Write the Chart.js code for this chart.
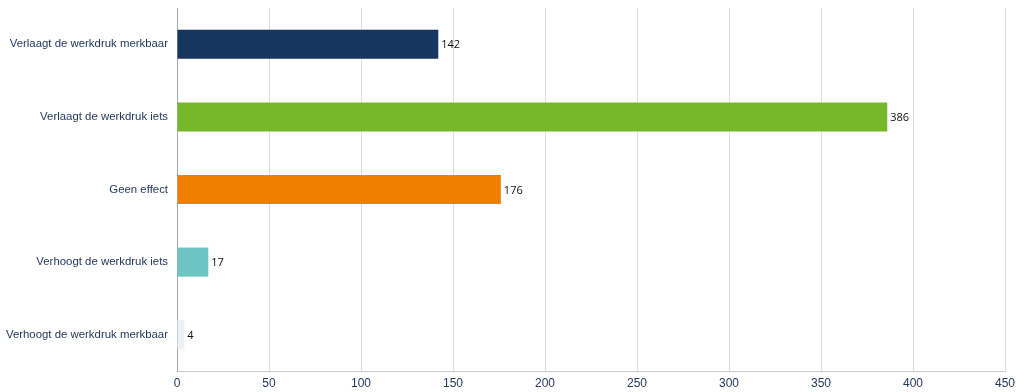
<!DOCTYPE html>
<html>
<head>
<meta charset="utf-8">
<script src="https://cdn.jsdelivr.net/npm/chart.js@4/dist/chart.umd.min.js"></script>
<style>
html,body{margin:0;padding:0;background:#fff;}
#wrap{width:1024px;height:392px;position:relative;}
</style>
</head>
<body>
<div id="wrap"><canvas id="c" width="1024" height="392"></canvas></div>
<script>
const categories = ["Verlaagt de werkdruk merkbaar","Verlaagt de werkdruk iets","Geen effect","Verhoogt de werkdruk iets","Verhoogt de werkdruk merkbaar"];
const values = [142, 386, 176, 17, 4];
const barColors = ["#17365f","#77b82a","#f07f00","#6cc4c3","#eef0f5"];
const xTicks = [0,50,100,150,200,250,300,350,400,450];

const valueLabels = {
  id:'valueLabels',
  afterDatasetsDraw(chart){
    const ctx = chart.ctx;
    const meta = chart.getDatasetMeta(0);
    ctx.save();
    ctx.font = '11px "Open Sans"';
    ctx.fillStyle = '#111';
    ctx.textAlign = 'left';
    ctx.textBaseline = 'middle';
    meta.data.forEach((el,i)=>{
      ctx.fillText(String(values[i]), el.x + 3, el.y + 1);
    });
    ctx.restore();
  }
};

new Chart(document.getElementById('c'), {
  type:'bar',
  data:{
    labels: categories,
    datasets:[{data: values, backgroundColor: barColors, borderWidth:0, barPercentage:0.4, categoryPercentage:1}]
  },
  options:{
    indexAxis:'y',
    responsive:false,
    animation:false,
    layout:{padding:{left:0,right:19,top:8,bottom:0}},
    plugins:{legend:{display:false},tooltip:{enabled:false}},
    scales:{
      x:{
        min:0,max:450,
        afterBuildTicks(s){ s.ticks = xTicks.map(v=>({value:v})); },
        afterFit(s){ s.height = 21; },
        grid:{color:'#dcdcdc',drawTicks:false},
        border:{color:'#c8c8d0'},
        ticks:{color:'#22395f',font:{family:'"Liberation Sans", Arial',size:12},padding:5,maxRotation:0}
      },
      y:{
        afterFit(s){ s.width = 177; s.paddingTop = 0; s.paddingBottom = 0; },
        grid:{display:false,drawTicks:false},
        border:{color:'#a8a8b4'},
        ticks:{color:'#22395f',font:{family:'"Liberation Sans", Arial',size:11.4},padding:9}
      }
    }
  },
  plugins:[valueLabels]
});
</script>
</body>
</html>
